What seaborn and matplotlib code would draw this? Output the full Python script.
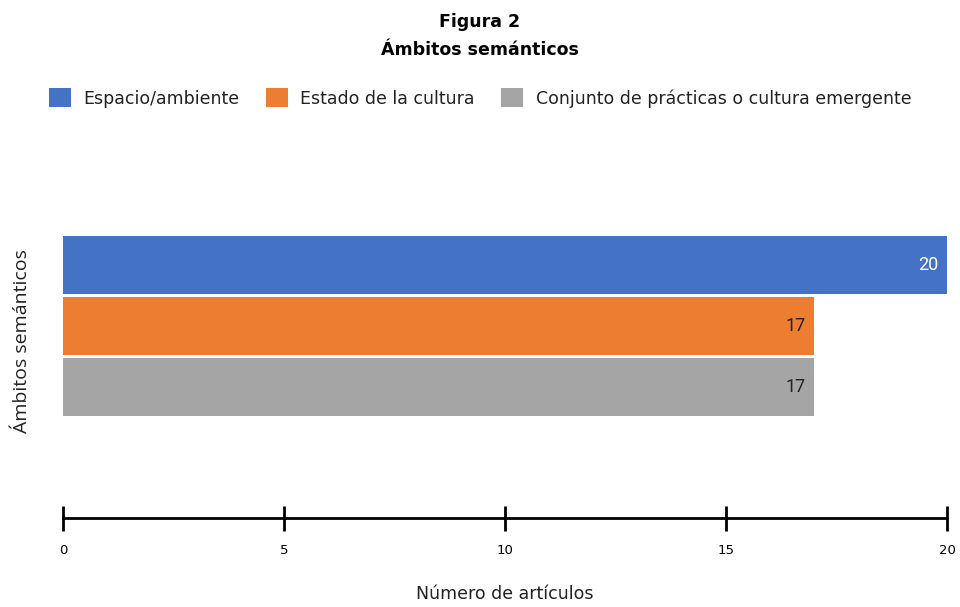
import matplotlib
matplotlib.use("Agg")
import matplotlib.pyplot as plt
from matplotlib.patches import Patch
import seaborn as sns
import pandas as pd

# Data
categoria = ["Ámbitos semánticos"]
series = ["Espacio/ambiente", "Estado de la cultura",
          "Conjunto de prácticas o cultura emergente"]
valores = [20, 17, 17]
colores = ["#4472C4", "#ED7D31", "#A5A5A5"]
colores_etiqueta = ["white", "#222222", "#222222"]
ticks_x = [0, 5, 10, 15, 20]

df = pd.DataFrame({
    "ambito": categoria * len(series),
    "serie": series,
    "articulos": valores,
})

sns.set_theme(style="white")
plt.rcParams["font.family"] = ["Open Sans", "DejaVu Sans"]

fig = plt.figure(figsize=(9.6, 6.07), dpi=100)
ax = fig.add_axes([63 / 960, 1 - 518 / 607, (947 - 63) / 960, (518 - 134) / 607])

sns.barplot(data=df, y="ambito", x="articulos", hue="serie",
            hue_order=series, palette=colores, orient="h",
            width=0.477, gap=0.05, dodge=True, legend=False, ax=ax,
            saturation=1, linewidth=0)

ax.set_xlim(0, 20)
ax.set_ylim(0.5, -0.5)
ax.set_xticks(ticks_x)
ax.set_xticklabels([str(t) for t in ticks_x], fontsize=9.5,
                   family="DejaVu Sans", color="black")
ax.tick_params(axis="x", direction="inout", length=18, width=2,
               color="black", pad=10, bottom=True)
ax.set_yticks([])
for s in ["top", "right", "left"]:
    ax.spines[s].set_visible(False)
ax.spines["bottom"].set_linewidth(2)
ax.spines["bottom"].set_color("black")

ax.set_xlabel("Número de artículos", fontsize=12.5, labelpad=20,
              family="DejaVu Sans", color="#222222")
ax.set_ylabel("Ámbitos semánticos", fontsize=14, color="#222222")
ax.yaxis.set_label_coords(-0.036, 0.46)

# Value labels inside the end of each bar
for patch, v, c in zip(ax.patches, valores, colores_etiqueta):
    yc = patch.get_y() + patch.get_height() / 2
    ax.annotate(str(v), xy=(v, yc), xytext=(-6, 0), textcoords="offset points",
                ha="right", va="center", fontsize=13, color=c, family="Roboto")

fig.text(0.5, 1 - 22 / 607, "Figura 2", ha="center", va="center",
         fontsize=12.5, fontweight="bold", family="DejaVu Sans", color="black")
fig.text(0.5, 1 - 50 / 607, "Ámbitos semánticos", ha="center", va="center",
         fontsize=12.5, fontweight="bold", family="DejaVu Sans", color="black")

handles = [Patch(facecolor=c, edgecolor="none") for c in colores]
leg = fig.legend(handles, series, loc="center", bbox_to_anchor=(0.5, 1 - 98 / 607),
                 ncol=3, frameon=False, handlelength=1.3,
                 handleheight=1.3, handletextpad=0.7, columnspacing=1.5,
                 prop={"family": "DejaVu Sans", "size": 12.5})
for t in leg.get_texts():
    t.set_color("#222222")

fig.savefig("out.png", dpi=100)
